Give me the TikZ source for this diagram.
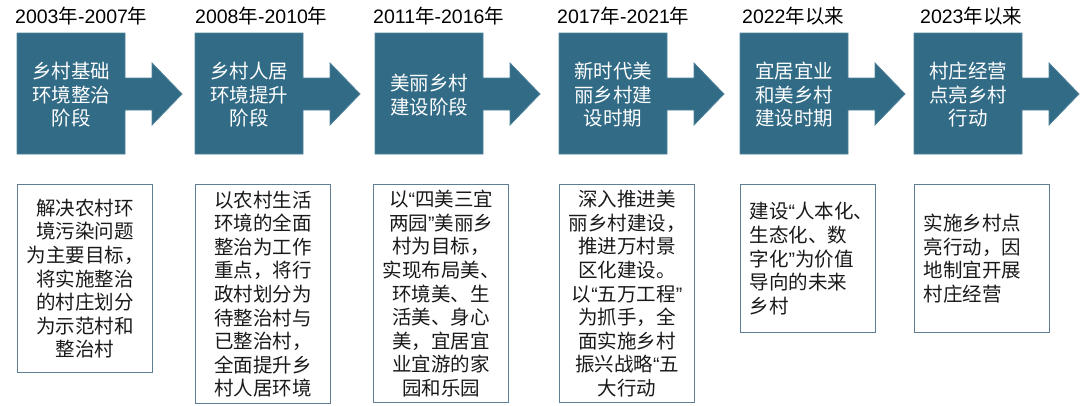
\documentclass[tikz,border=0pt]{standalone}
\usepackage{fontspec}
\setmainfont{Noto Sans CJK SC}
\newfontfamily\lat{Liberation Sans}
\definecolor{arrowc}{HTML}{316B86}
\definecolor{arrowedge}{HTML}{4F8199}
\definecolor{boxedge}{HTML}{5F7E94}
\tikzset{
  stagearrow/.pic={\filldraw[fill=arrowc,draw=arrowedge,line width=0.8pt]
    (0,0) -- (108,0) -- (108,45) -- (135,45) -- (135,30) -- (165,61) -- (135,92) -- (135,77) -- (108,77) -- (108,121) -- (0,121) -- cycle;},
  arrowtext/.style={text=white,align=center,inner sep=0pt,font=\fontsize{19.5pt}{23.5pt}\selectfont},
  yearlabel/.style={anchor=west,inner sep=0pt,text=black,font=\fontsize{19.5pt}{23pt}\selectfont},
  descbox/.style={draw=boxedge,line width=1.2pt,text width=117pt,inner xsep=9pt,inner ysep=0pt,anchor=north west,text=black!90,font=\fontsize{19.5pt}{23.6pt}\selectfont},
}
\begin{document}
\begin{tikzpicture}[x=1pt,y=-1pt]
\useasboundingbox (0,0) rectangle (1080,405);
% arrows
\pic at (17,33) {stagearrow};
\pic at (195,33) {stagearrow};
\pic at (375,33) {stagearrow};
\pic at (559,33) {stagearrow};
\pic at (740,33) {stagearrow};
\pic at (914,33) {stagearrow};
% year labels
\node[yearlabel] (y1) at (15,16) {{\lat 2003}年{\lat -2007}年};
\node[yearlabel] (y2) at (195,16) {{\lat 2008}年{\lat -2010}年};
\node[yearlabel] (y3) at (373,16) {{\lat 2011}年{\lat -2016}年};
\node[yearlabel] (y4) at (557,16) {{\lat 2017}年{\lat -2021}年};
\node[yearlabel] (y5) at (742,16) {{\lat 2022}年以来};
\node[yearlabel] (y6) at (920,16) {{\lat 2023}年以来};
% arrow texts
\node[arrowtext] (a1) at (71,95) {乡村基础\\环境整治\\阶段};
\node[arrowtext] (a2) at (249,95) {乡村人居\\环境提升\\阶段};
\node[arrowtext] (a3) at (429,95) {美丽乡村\\建设阶段};
\node[arrowtext] (a4) at (613,95) {新时代美\\丽乡村建\\设时期};
\node[arrowtext] (a5) at (794,95) {宜居宜业\\和美乡村\\建设时期};
\node[arrowtext] (a6) at (968,95) {村庄经营\\点亮乡村\\行动};
% description boxes
\node[descbox,align=center,minimum height=188pt] (b1) at (17,184) {解决农村环\\境污染问题\\为主要目标，\\将实施整治\\的村庄划分\\为示范村和\\整治村};
\node[descbox,align=center,minimum height=219pt] (b2) at (195,184) {以农村生活\\环境的全面\\整治为工作\\重点，将行\\政村划分为\\待整治村与\\已整治村，\\全面提升乡\\村人居环境};
\node[descbox,align=center,minimum height=218pt] (b3) at (373,184) {以{\lat “}四美三宜\\两园{\lat ”}美丽乡\\村为目标，\\实现布局美、\\环境美、生\\活美、身心\\美，宜居宜\\业宜游的家\\园和乐园};
\node[descbox,align=center,minimum height=218pt] (b4) at (559,184) {深入推进美\\丽乡村建设，\\推进万村景\\区化建设。\\以{\lat “}五万工程{\lat ”}\\为抓手，全\\面实施乡村\\振兴战略{\lat “}五\\大行动};
\node[descbox,align=left,minimum height=148pt] (b5) at (740,184) {建设{\lat “}人本化、\\生态化、数\\字化{\lat ”}为价值\\导向的未来\\乡村};
\node[descbox,align=left,minimum height=148pt] (b6) at (914,184) {实施乡村点\\亮行动，因\\地制宜开展\\村庄经营};
\end{tikzpicture}
\end{document}
